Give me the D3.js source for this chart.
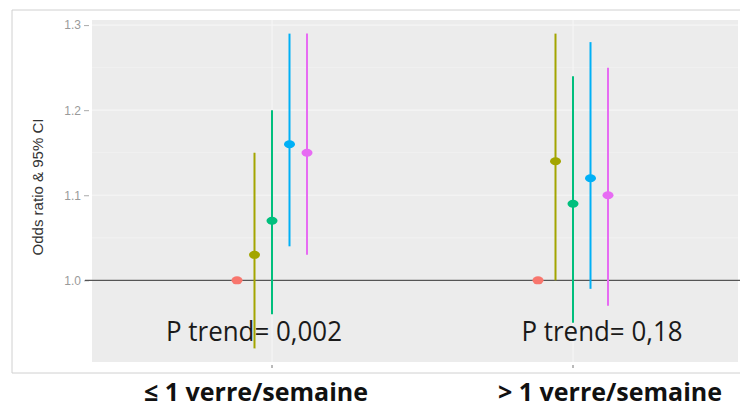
<!DOCTYPE html>
<html><head><meta charset="utf-8">
<script src="https://cdn.jsdelivr.net/npm/d3@7"></script>
<style>body{margin:0;background:#fff}svg{display:block}</style>
</head><body>
<svg id="c" width="740" height="410"></svg>
<script>
// ---- data ----
const groups = ["≤ 1 verre/semaine", "> 1 verre/semaine"];
const series = ["1", "2", "3", "4", "5"];
const colors = ["#F8766D", "#A3A500", "#00BF7D", "#00B0F6", "#E76BF3"];
const orG1 = [1.00, 1.03, 1.07, 1.16, 1.15];
const loG1 = [1.00, 0.92, 0.96, 1.04, 1.03];
const hiG1 = [1.00, 1.15, 1.20, 1.29, 1.29];
const orG2 = [1.00, 1.14, 1.09, 1.12, 1.10];
const loG2 = [1.00, 1.00, 0.95, 0.99, 0.97];
const hiG2 = [1.00, 1.29, 1.24, 1.28, 1.25];
const pTrend = ["P trend= 0,002", "P trend= 0,18"];
const yTicks = [1.0, 1.1, 1.2, 1.3];
const yMinor = [1.05, 1.15, 1.25];
const yTitle = "Odds ratio & 95% CI";

const rows = [];
[[orG1, loG1, hiG1], [orG2, loG2, hiG2]].forEach((arr, gi) => {
  series.forEach((s, si) => rows.push({g: groups[gi], s, c: colors[si], or: arr[0][si], lo: arr[1][si], hi: arr[2][si]}));
});

const svg = d3.select("#c");
const panel = {x0: 92, x1: 738, y0: 20, y1: 362};

// outer border
svg.append("path").attr("d", "M740,10 H12 V373 H740").attr("fill", "none").attr("stroke", "#d0d0d0").attr("stroke-width", 1);

const y = d3.scaleLinear().domain([0.904, 1.306]).range([panel.y1, panel.y0]);
const x = d3.scalePoint().domain(groups).range([272, 573]);
const dx = d3.scalePoint().domain(series).range([-35, 35]);

// panel background
svg.append("rect").attr("x", panel.x0).attr("y", panel.y0).attr("width", panel.x1 - panel.x0).attr("height", panel.y1 - panel.y0).attr("fill", "#ececec");

// gridlines
svg.selectAll(".gmin").data(yMinor).join("line").attr("x1", panel.x0).attr("x2", panel.x1)
  .attr("y1", d => y(d)).attr("y2", d => y(d)).attr("stroke", "#f3f3f3").attr("stroke-width", 0.8);
svg.selectAll(".gmaj").data(yTicks).join("line").attr("x1", panel.x0).attr("x2", panel.x1)
  .attr("y1", d => y(d)).attr("y2", d => y(d)).attr("stroke", "#f6f6f6").attr("stroke-width", 1.2);
svg.selectAll(".gx").data(groups).join("line").attr("x1", d => x(d)).attr("x2", d => x(d))
  .attr("y1", panel.y0).attr("y2", panel.y1).attr("stroke", "#f6f6f6").attr("stroke-width", 1.2);

// y axis
const yAxis = d3.axisLeft(y).tickValues(yTicks).tickFormat(d3.format(".1f")).tickSize(5).tickPadding(3);
const ga = svg.append("g").attr("transform", `translate(${panel.x0 - 3},0)`).call(yAxis);
ga.select(".domain").remove();
ga.selectAll("line").attr("stroke", "#aaa");
ga.selectAll("text").attr("fill", "#9a9a9a").attr("font-family", "Liberation Sans, Arial, sans-serif").attr("font-size", 12);

// x ticks
svg.selectAll(".xt").data(groups).join("line").attr("x1", d => x(d)).attr("x2", d => x(d))
  .attr("y1", panel.y1 + 3).attr("y2", panel.y1 + 6).attr("stroke", "#777");

// y title
svg.append("text").attr("transform", "translate(43,187) rotate(-90)").attr("text-anchor", "middle")
  .attr("font-family", "Liberation Sans, Arial, sans-serif").attr("font-size", 15).attr("fill", "#333")
  .attr("textLength", 137).attr("lengthAdjust", "spacingAndGlyphs").text(yTitle);

// reference line at 1
svg.append("line").attr("x1", 85).attr("x2", 740).attr("y1", y(1)).attr("y2", y(1)).attr("stroke", "#555").attr("stroke-width", 1.4);

// CIs
svg.selectAll(".ci").data(rows).join("line")
  .attr("x1", d => x(d.g) + dx(d.s)).attr("x2", d => x(d.g) + dx(d.s))
  .attr("y1", d => y(d.lo)).attr("y2", d => y(d.hi)).attr("stroke", d => d.c).attr("stroke-width", 2);
// points
svg.selectAll(".pt").data(rows).join("ellipse")
  .attr("cx", d => x(d.g) + dx(d.s)).attr("cy", d => y(d.or)).attr("rx", 5.5).attr("ry", 4).attr("fill", d => d.c);

// P trend
svg.selectAll(".pt2").data(groups).join("text")
  .attr("x", (d, i) => x(d) - 18 + i * 47).attr("y", 341).attr("text-anchor", "middle")
  .attr("font-family", "Open Sans, sans-serif").attr("font-size", 28).attr("fill", "#1a1a1a")
  .attr("textLength", (d, i) => i === 0 ? 176 : 161).attr("lengthAdjust", "spacingAndGlyphs")
  .text((d, i) => pTrend[i]);

// category labels
svg.selectAll(".cat").data(groups).join("text")
  .attr("x", (d, i) => x(d) - 16 + i * 53).attr("y", 401).attr("text-anchor", "middle")
  .attr("font-family", "Open Sans, sans-serif").attr("font-weight", "bold").attr("font-size", 25).attr("fill", "#111")
  .attr("textLength", (d, i) => i === 0 ? 224 : 224).attr("lengthAdjust", "spacingAndGlyphs")
  .text(d => d);
</script>
</body></html>
